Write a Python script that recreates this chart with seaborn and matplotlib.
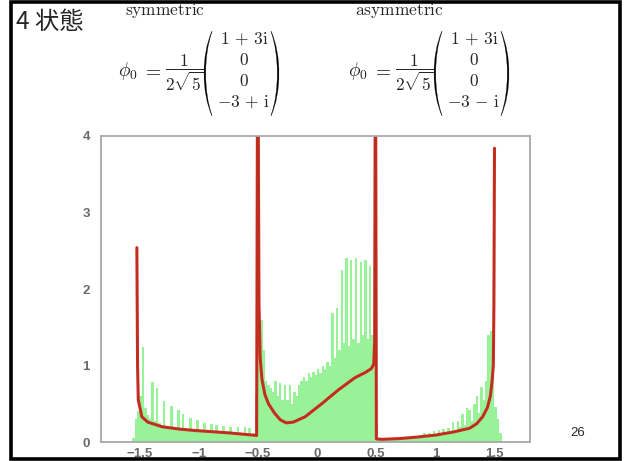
import numpy as np
import pandas as pd
import matplotlib
matplotlib.use("Agg")
import matplotlib.pyplot as plt
import seaborn as sns
from matplotlib.patches import Rectangle, PathPatch
from matplotlib.path import Path

# ---- data -------------------------------------------------------------
# histogram of walker positions, bin width 0.02, centres -1.55 ... 1.55
hist_left = [0.05, 0.30, 0.40, 0.60, 1.24, 0.45, 0.35, 0.30, 0.78, 0.28,
             0.70, 0.25, 0.22, 0.53, 0.20, 0.20, 0.47, 0.19, 0.18, 0.42,
             0.18, 0.37, 0.17, 0.16, 0.32, 0.16, 0.15, 0.29, 0.15, 0.14,
             0.25, 0.14, 0.13, 0.24, 0.13, 0.22, 0.12, 0.12, 0.21, 0.12,
             0.11, 0.20, 0.11, 0.11, 0.19, 0.11, 0.10, 0.19, 0.10, 0.18,
             0.10, 0.12, 0.60]
hist_mid = [4.20, 1.60, 1.20, 0.80, 0.75, 0.70, 0.65, 0.80, 0.60, 0.77,
            0.55, 0.75, 0.55, 0.74, 0.50, 0.65, 0.60, 0.75, 0.80, 0.85,
            0.80, 0.90, 0.85, 0.92, 0.88, 0.95, 0.90, 1.00, 0.95, 1.05,
            1.00, 1.68, 1.10, 1.75, 1.20, 2.25, 1.30, 2.40, 1.25, 2.38,
            1.35, 2.40, 1.30, 2.35, 1.40, 2.38, 1.35, 2.30, 1.40, 1.00]
hist_right = [0.04, 0.03, 0.03, 0.03, 0.04, 0.03, 0.04, 0.04, 0.05, 0.04,
              0.06, 0.05, 0.06, 0.05, 0.07, 0.05, 0.08, 0.06, 0.09, 0.07,
              0.12, 0.08, 0.12, 0.09, 0.14, 0.10, 0.16, 0.11, 0.17, 0.12,
              0.18, 0.14, 0.26, 0.16, 0.28, 0.20, 0.37, 0.22, 0.45, 0.42,
              0.28, 0.50, 0.60, 0.38, 0.72, 0.55, 0.80, 1.40, 1.45, 1.20,
              0.46, 0.30, 0.12]

# limit density curve
curve_x = [-1.522, -1.516, -1.51, -1.48, -1.43, -1.31, -1.17, -1.03, -0.75,
           -0.54, -0.51, -0.503, -0.497, -0.49, -0.48, -0.465, -0.44, -0.41,
           -0.36, -0.31, -0.26, -0.20, -0.10, 0.04, 0.18, 0.32, 0.41, 0.46,
           0.48, 0.487, 0.492, 0.496, 0.502, 0.55, 0.70, 0.85, 1.00, 1.15,
           1.29, 1.35, 1.40, 1.44, 1.465, 1.48, 1.49, 1.495, 1.50]
curve_y = [2.54, 1.00, 0.55, 0.33, 0.26, 0.20, 0.17, 0.15, 0.12,
           0.09, 0.085, 4.50, 4.50, 1.80, 1.10, 0.82, 0.62, 0.50,
           0.38, 0.29, 0.25, 0.26, 0.33, 0.50, 0.68, 0.84, 0.91, 0.96,
           1.02, 1.30, 4.50, 4.50, 0.04, 0.035, 0.045, 0.065, 0.09, 0.13,
           0.18, 0.24, 0.33, 0.45, 0.60, 0.80, 1.00, 1.80, 3.84]

x_ticks = [-1.5, -1, -0.5, 0, 0.5, 1, 1.5]
x_tick_labels = ["\u22121.5", "\u22121", "\u22120.5", "0", "0.5", "1", "1.5"]
y_ticks = [0, 1, 2, 3, 4]
y_tick_labels = ["0", "1", "2", "3", "4"]

# ---- figure -----------------------------------------------------------
W, H = 626, 461
sns.set_style("white")
plt.rcParams["font.family"] = ["Liberation Sans", "DejaVu Sans"]
plt.rcParams["mathtext.fontset"] = "cm"

fig = plt.figure(figsize=(W / 100, H / 100), dpi=100)


def fx(px):
    return px / W


def fy(py):
    return 1 - py / H


ax = fig.add_axes([fx(101), fy(442), fx(530) - fx(101), fy(136) - fy(442)])

heights = hist_left + hist_mid + hist_right
n_bins = len(heights)
centres = [round(-1.55 + 0.02 * k, 3) for k in range(n_bins)]
hist_df = pd.DataFrame({"x": centres, "w": heights})
sns.histplot(data=hist_df, x="x", weights="w", binwidth=0.02,
             binrange=(-1.56, 1.56), stat="count", element="bars",
             color="#86f086", alpha=0.85, linewidth=0, ax=ax)

curve_df = pd.DataFrame({"x": curve_x, "y": curve_y})
sns.lineplot(data=curve_df, x="x", y="y", sort=False, estimator=None,
             color="#d22c24", linewidth=2.2, ax=ax)
sns.lineplot(data=curve_df, x="x", y="y", sort=False, estimator=None,
             color="#9a3418", linewidth=0.8, alpha=0.6, ax=ax)

ax.set_xlim(-1.825, 1.80)
ax.set_ylim(0, 4)
ax.set_xticks(x_ticks)
ax.set_xticklabels(x_tick_labels)
ax.set_yticks(y_ticks)
ax.set_yticklabels(y_tick_labels)
ax.set_xlabel("")
ax.set_ylabel("")
ax.tick_params(axis="both", colors="#a8a8a8", labelcolor="#6a6a6a",
               labelsize=9.5, length=2, width=0.8)
ax.tick_params(axis="x", pad=2)
ax.tick_params(axis="y", pad=6)
for lab in ax.get_xticklabels() + ax.get_yticklabels():
    lab.set_fontweight("bold")
for sp in ax.spines.values():
    sp.set_color("#a8a8a8")
    sp.set_linewidth(1.3)
    sp.set_visible(True)

# ---- slide frame and headings ----------------------------------------
fig.patches.append(Rectangle((fx(11), fy(459)), fx(620) - fx(11),
                             fy(2.5) - fy(459), transform=fig.transFigure,
                             fill=False, edgecolor="black", linewidth=2.6))

fig.text(fx(16), fy(22), "4 状態", fontsize=17.5, ha="left", va="center",
         family=["Noto Sans CJK JP", "DejaVu Sans"])
fig.text(fx(578), fy(433), "26", fontsize=9.5, ha="center", va="center",
         family=["Liberation Sans", "DejaVu Sans"])


def paren(x_out, x_end, y_top, y_bot, thick=1.7):
    """Tall curved bracket; x_out is the bulge, x_end the tips."""
    pts = []
    h = y_bot - y_top
    c_out = (x_out - 0.25 * x_end) / 0.75
    x_in = x_out + (thick if x_end > x_out else -thick)
    c_in = (x_in - 0.25 * x_end) / 0.75
    verts = [(x_end, y_top), (c_out, y_top + 0.28 * h),
             (c_out, y_bot - 0.28 * h), (x_end, y_bot),
             (x_end, y_bot - 0.8), (c_in, y_bot - 0.28 * h),
             (c_in, y_top + 0.28 * h), (x_end, y_top + 0.8),
             (x_end, y_top)]
    for vx, vy in verts:
        pts.append((fx(vx), fy(vy)))
    codes = [Path.MOVETO, Path.CURVE4, Path.CURVE4, Path.CURVE4,
             Path.LINETO, Path.CURVE4, Path.CURVE4, Path.CURVE4,
             Path.CLOSEPOLY]
    fig.patches.append(PathPatch(Path(pts, codes), transform=fig.transFigure,
                                 facecolor="black", edgecolor="black",
                                 linewidth=0.2))


def state_block(x0, label, last_entry):
    fig.text(fx(x0 + 7), fy(11), r"$\mathrm{" + label + "}$", fontsize=12.5,
             ha="left", va="center")
    fig.text(fx(x0), fy(76.5), r"$\phi_0$", fontsize=14, ha="left",
             va="baseline")
    fig.text(fx(x0 + 34), fy(76.5), r"$=$", fontsize=14, ha="center",
             va="baseline")
    fig.text(fx(x0 + 66), fy(72.5), r"$\dfrac{1}{2\sqrt{5}}$", fontsize=12.5,
             ha="center", va="center")
    col = x0 + 126
    rows = [r"$1\,+\,3\mathrm{i}$", r"$0$", r"$0$", last_entry]
    for ry, txt in zip([39, 60, 81, 102], rows):
        fig.text(fx(col), fy(ry), txt, fontsize=12.5, ha="center",
                 va="center")
    paren(x0 + 86, x0 + 94, 31, 116)
    paren(x0 + 161, x0 + 153, 31, 116)


state_block(118, "symmetric", r"$-3\,+\,\mathrm{i}$")
state_block(348, "asymmetric", r"$-3\,-\,\mathrm{i}$")

fig.savefig("out.png", dpi=100)
